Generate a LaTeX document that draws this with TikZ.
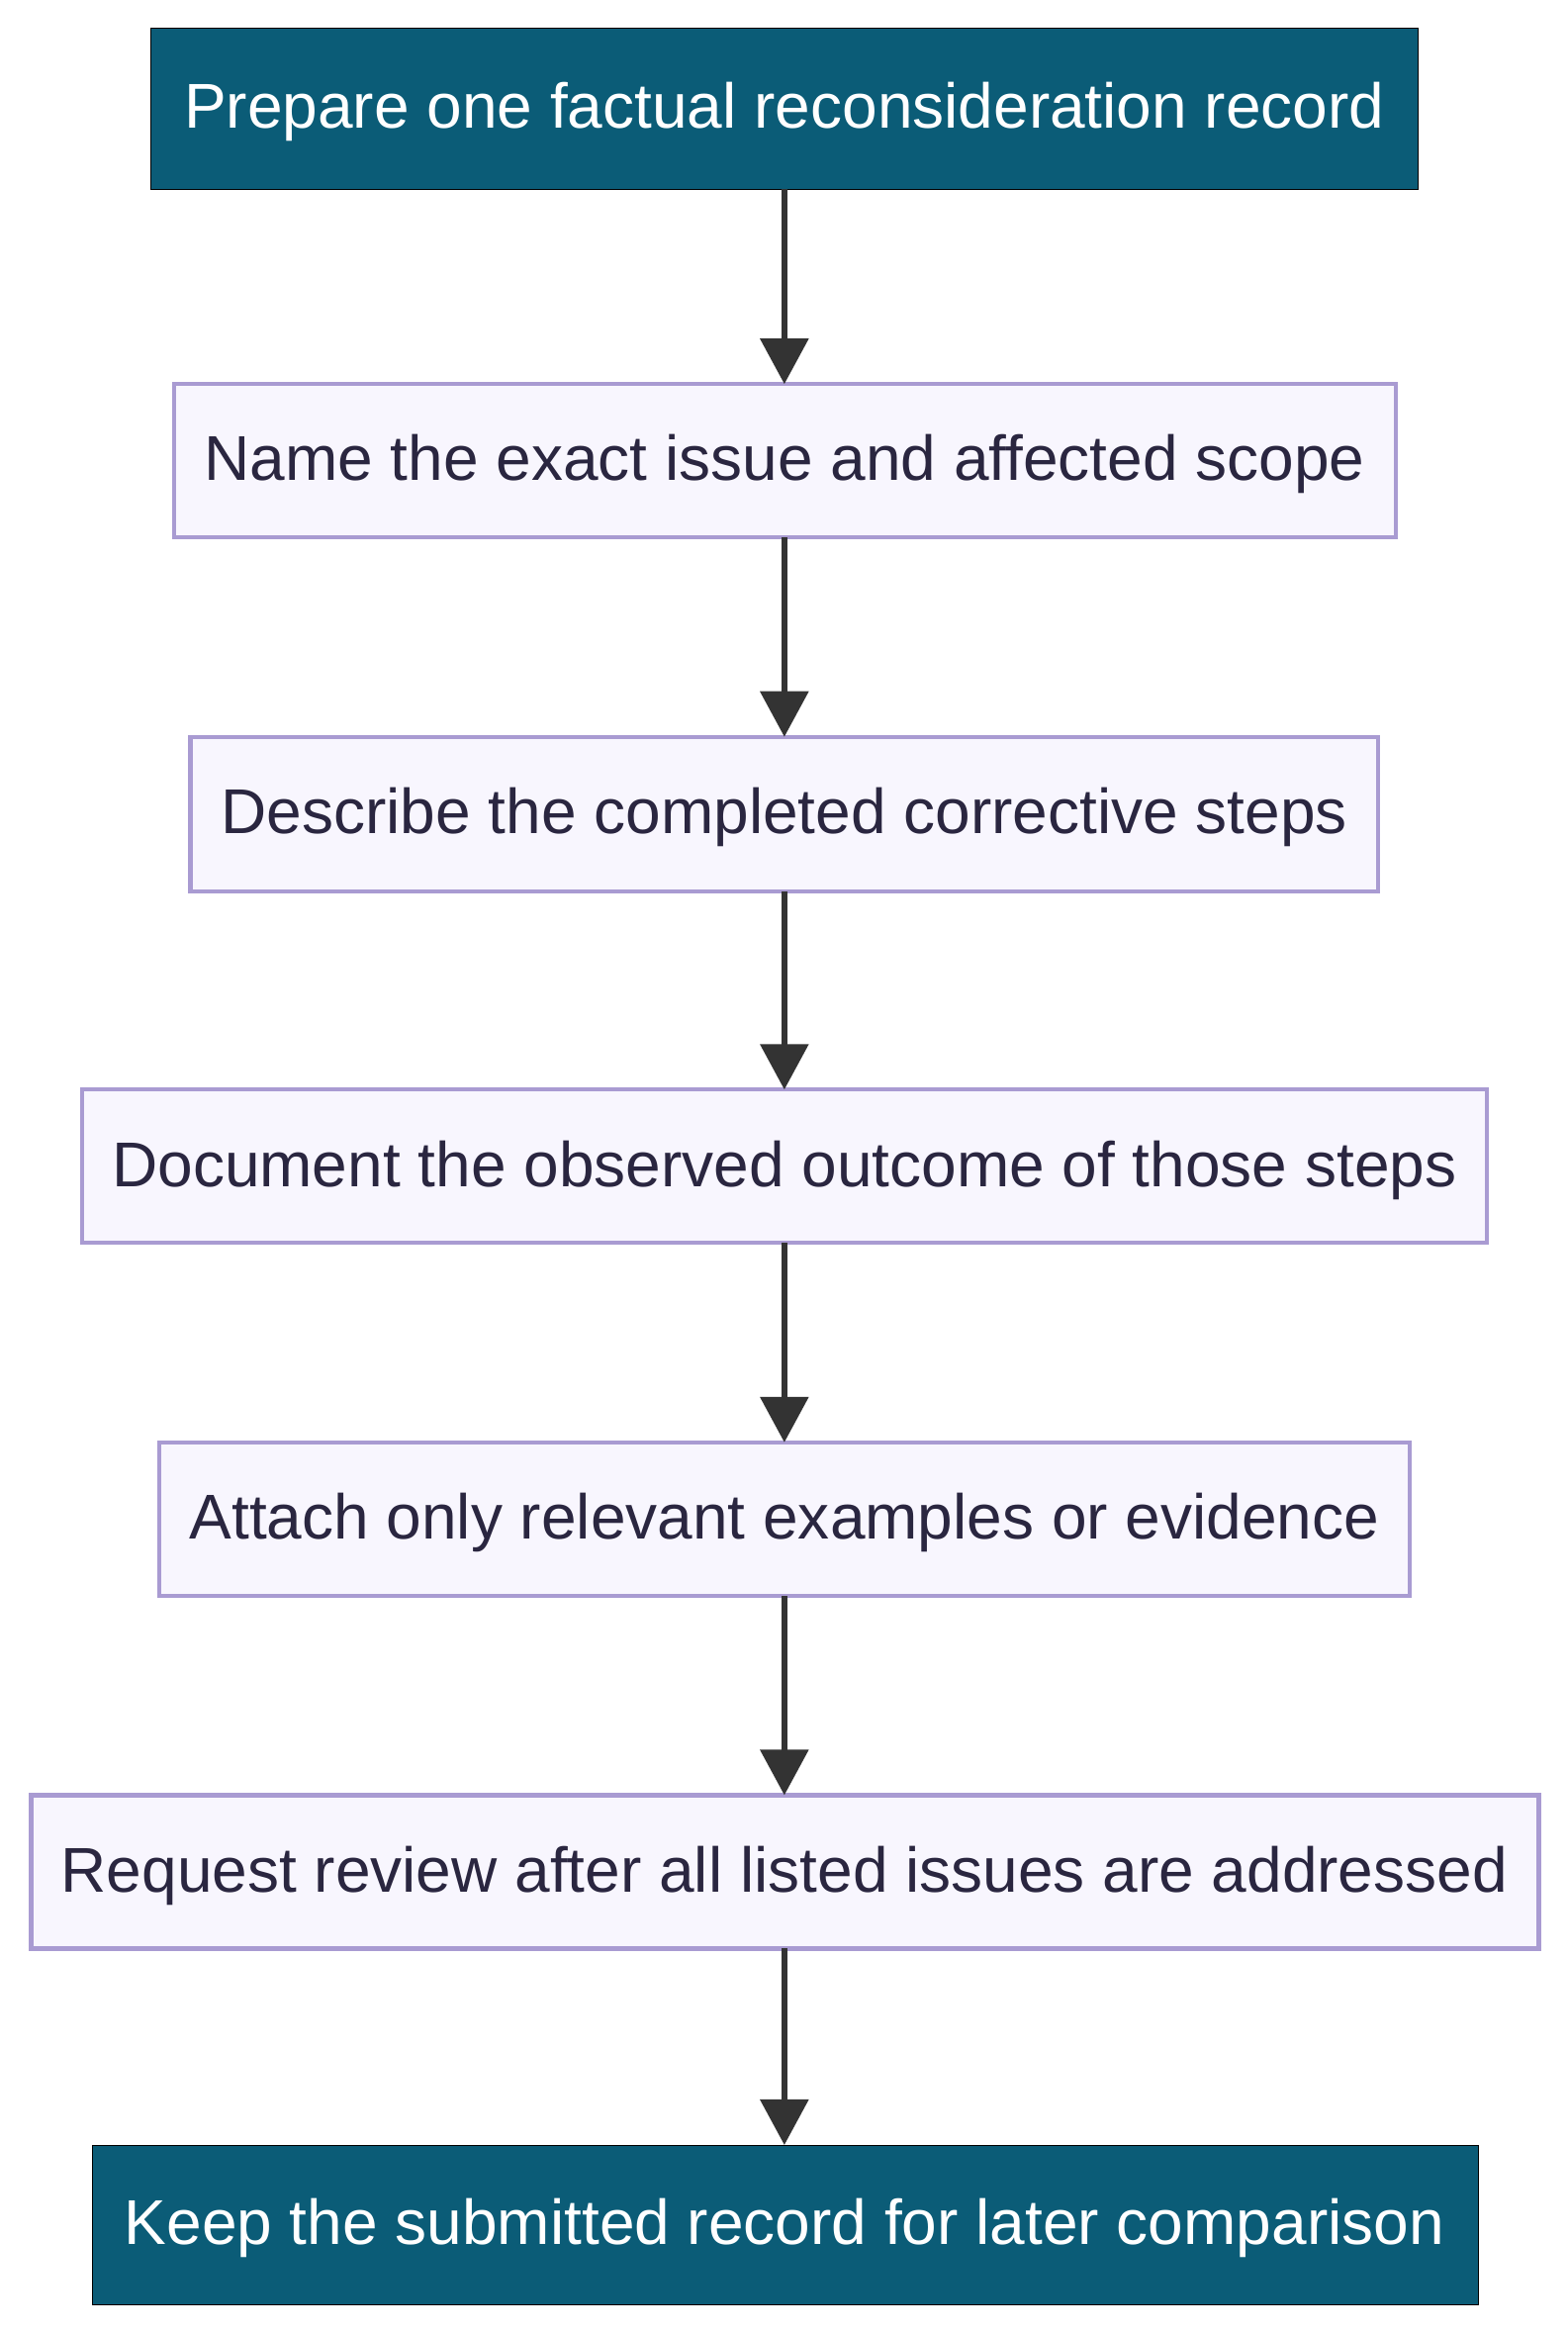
\documentclass[tikz,border=0pt]{standalone}
\usepackage{fontspec}
\setmainfont{Liberation Sans}
\usetikzlibrary{arrows.meta}
\definecolor{dark}{HTML}{0B5C77}
\definecolor{lbd}{HTML}{A99BD2}
\definecolor{lfill}{HTML}{F8F6FE}
\definecolor{txt}{HTML}{2A2640}
\definecolor{arr}{HTML}{333333}
\begin{document}
\begin{tikzpicture}[x=0.7521pt,y=-0.7521pt,
  lightbox/.style={draw=lbd,line width=2.2pt,fill=lfill,text=txt,font=\fontsize{32}{38}\selectfont},
  darkbox/.style={fill=dark,text=white,font=\fontsize{32}{38}\selectfont},
  conn/.style={draw=arr,line width=3pt,-{Triangle[width=24pt,length=23pt]}}]
\fill[white] (0,0) rectangle (1053,1566);
\useasboundingbox (0,0) rectangle (1053,1566);
\draw[darkbox] (101,19) rectangle (953,127);
\node[darkbox,fill=none] (n1) at (527,75) {Prepare one factual reconsideration record};
\draw[lightbox] (117,258) rectangle (938,361);
\node[lightbox,draw=none,fill=none] (n2) at (527,312) {Name the exact issue and affected scope};
\draw[lightbox] (128,495) rectangle (926,599);
\node[lightbox,draw=none,fill=none] (n3) at (527,549) {Describe the completed corrective steps};
\draw[lightbox] (55,732) rectangle (999,835);
\node[lightbox,draw=none,fill=none] (n4) at (527,786) {Document the observed outcome of those steps};
\draw[lightbox] (107,969) rectangle (947,1072);
\node[lightbox,draw=none,fill=none] (n5) at (527,1023) {Attach only relevant examples or evidence};
\draw[lightbox] (21,1206) rectangle (1034,1309);
\node[lightbox,draw=none,fill=none] (n6) at (527,1260) {Request review after all listed issues are addressed};
\draw[darkbox] (62,1441) rectangle (993,1548);
\node[darkbox,fill=none] (n7) at (527,1497) {Keep the submitted record for later comparison};
\coordinate (a1) at (527,127); \coordinate (b1) at (527,258);
\coordinate (a2) at (527,361); \coordinate (b2) at (527,495);
\coordinate (a3) at (527,599); \coordinate (b3) at (527,732);
\coordinate (a4) at (527,835); \coordinate (b4) at (527,969);
\coordinate (a5) at (527,1072); \coordinate (b5) at (527,1206);
\coordinate (a6) at (527,1309); \coordinate (b6) at (527,1441);
\foreach \i in {1,...,6} \draw[conn] (a\i) -- (b\i);
\end{tikzpicture}
\end{document}
